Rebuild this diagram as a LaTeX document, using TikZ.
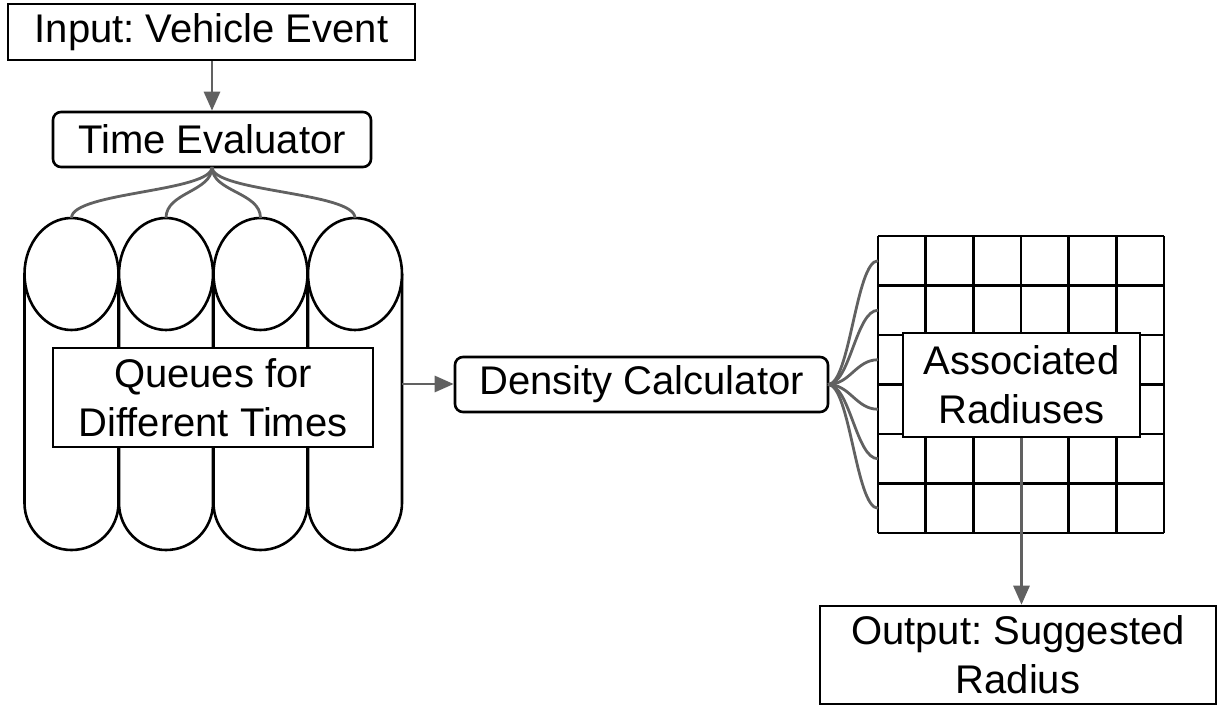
\documentclass[tikz,border=0pt]{standalone}
\usepackage{fontspec}
\setmainfont{Liberation Sans}
\usetikzlibrary{arrows.meta,calc}
\frenchspacing
\begin{document}
\begin{tikzpicture}[x=1pt,y=-1pt,
  box/.style={draw=black,line width=2.6pt,fill=white,inner sep=0pt,align=center,
    font=\fontsize{40}{49}\selectfont},
  rbox/.style={box,rounded corners=8pt},
  shape line/.style={draw=black,line width=2.6pt},
  conn/.style={draw=black!62,line width=2.8pt},
  arr/.style={conn,-{Triangle[length=19pt,width=16pt]}}]
\useasboundingbox (0,0) rectangle (1225,706);

% Input
\node[box,minimum width=407pt,minimum height=56pt] (in) at (211.5,32) {Input: Vehicle Event};
\node[rbox,minimum width=318pt,minimum height=55pt] (te) at (212,139.5) {Time Evaluator};
\draw[arr] (in.south -| te.south) -- (te.south |- te.north);

% cylinders
\foreach \cx [count=\i] in {71.5,166,260.5,355} {
  \draw[shape line] (\cx-47,274) -- (\cx-47,503)
     .. controls (\cx-47,529) and (\cx-26,550) .. (\cx,550)
     .. controls (\cx+26,550) and (\cx+47,529) .. (\cx+47,503) -- (\cx+47,274);
  \draw[shape line,fill=white] (\cx,274) ellipse [x radius=47, y radius=56];
  \coordinate (q\i) at (\cx,218);
}
\coordinate (qr) at (402,384);
\node[box,minimum width=320pt,minimum height=99pt] (qu) at (213,397.5) {Queues for\\Different Times};

% Time evaluator to queues
\coordinate (tes) at (212,167);
\foreach \i in {1,2,3,4} {
  \draw[conn] (tes) .. controls (212,192) and ($(q\i)+(0,-26)$) .. (q\i);
}

% density
\node[rbox,minimum width=373pt,minimum height=55pt] (dc) at (641.5,384.5) {Density Calculator};
\draw[arr] (qr) -- (qr -| dc.west);

% grid
\foreach \j in {0,...,6} {
  \draw[shape line] (878,236+\j*49.5) -- (1164,236+\j*49.5);
}
\foreach \k in {0,...,6} {
  \draw[shape line] (878+\k*47.67,236) -- (878+\k*47.67,533);
}
\coordinate (dce) at (828,384.5);
\foreach \j in {0,...,5} {
  \coordinate (g\j) at (878,260.75+\j*49.5);
  \draw[conn] (dce) .. controls (850,384.5) and (856,260.75+\j*49.5) .. (g\j);
}
\node[box,minimum width=237pt,minimum height=104pt] (ar) at (1021.5,385) {Associated\\Radiuses};

% output
\node[box,minimum width=396pt,minimum height=98pt] (out) at (1018,655) {Output: Suggested\\Radius};
\draw[arr] (ar.south) -- (ar.south |- out.north);
\end{tikzpicture}
\end{document}
